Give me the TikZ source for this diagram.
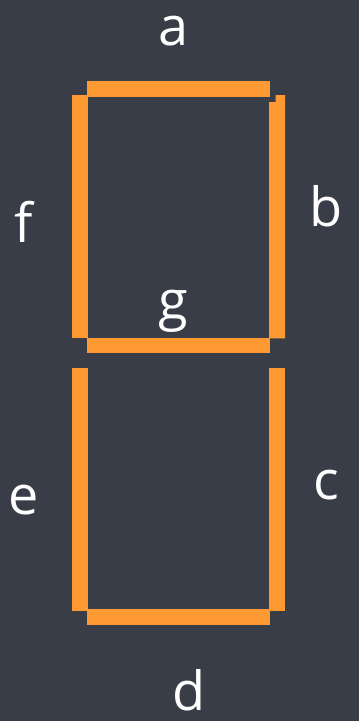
\documentclass[tikz,border=0pt]{standalone}
\usepackage{fontspec}
\setmainfont{Open Sans}
\definecolor{bgc}{HTML}{383D48}
\definecolor{seg}{HTML}{FF9A33}
\tikzset{
  segment/.style={fill=seg, draw=none},
  lbl/.style={text=white, inner sep=0pt, anchor=base, font=\fontsize{54}{60}\selectfont}
}
\begin{document}
\begin{tikzpicture}[x=1pt,y=-1pt]
\fill[bgc] (0,0) rectangle (359,721);
\useasboundingbox (0,0) rectangle (359,721);
% segments
\fill[segment] (87,81) rectangle (270,97);   % a
\fill[segment] (275.7,95) -- (285,95) -- (285,338.3) -- (269,338.3) -- (269,102) -- (275.7,102) -- cycle; % b
\fill[segment] (269,368.3) rectangle (285,610.7); % c
\fill[segment] (87,609.3) rectangle (270,625.3);  % d
\fill[segment] (72,368.3) rectangle (88,610.7);   % e
\fill[segment] (72,95.3) rectangle (88,338.3);    % f
\fill[segment] (87,338.3) rectangle (270,353.3);  % g
% labels
\node[lbl] (la) at (173.5,45) {a};
\node[lbl] (lb) at (326.5,226.5) {b};
\node[lbl] (lc) at (326,499.3) {c};
\node[lbl] (ld) at (189,710) {d};
\node[lbl] (le) at (24,514.3) {e};
\node[lbl] (lf) at (24,242) {f};
\node[lbl] (lg) at (173.5,319.5) {g};
\end{tikzpicture}
\end{document}
